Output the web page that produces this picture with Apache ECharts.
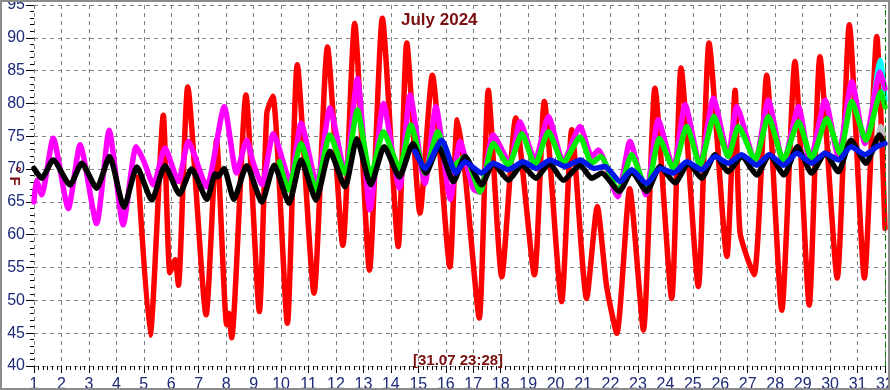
<!DOCTYPE html>
<html>
<head>
<meta charset="utf-8">
<script src="https://cdn.jsdelivr.net/npm/echarts@6/dist/echarts.min.js"></script>
<style>
html,body{margin:0;padding:0;background:#fff;}
#c{width:890px;height:390px;}
</style>
</head>
<body>
<div id="c"></div>
<script>
// ---- data: [day, °F] ----
const title = 'July 2024';
const stamp = '[31.07 23:28]';
const yName = '° F';
const xTicks = [1,32];
const yTicks = [40,95];

const red = [[4.80,68.8],[5.23,44.7],[5.71,78.2],[5.95,54.2],[6.14,56.2],[6.26,52.3],[6.60,82.5],[7.27,47.8],[7.65,74.4],[8.02,46.3],[8.10,48],[8.20,44.3],[8.72,81.3],[9.21,48.3],[9.48,78.5],[9.70,81.1],[10.23,46.5],[10.59,85.9],[11.20,51.1],[11.69,88.6],[12.25,58.4],[12.68,92.2],[13.22,54.6],[13.69,93.0],[14.27,58.2],[14.58,89.2],[15.06,63.3],[15.51,84.3],[16.15,55.1],[16.42,77.5],[16.70,69.4],[17.22,47.3],[17.55,82.0],[18.04,53.6],[18.55,77.8],[19.23,53.9],[19.59,80.3],[20.22,49.8],[20.59,76.0],[21.13,50.3],[21.52,64.3],[21.86,52.1],[22.23,45.0],[22.70,67],[23.20,45.5],[23.62,82.3],[24.23,50.3],[24.57,85.4],[25.20,52.1],[25.59,89.2],[26.24,56.7],[26.54,82.0],[26.72,60.3],[27.23,53.9],[27.69,84.3],[28.24,48.5],[28.72,86.4],[29.24,49.3],[29.63,87.1],[30.26,53.4],[30.70,92.0],[31.25,53.4],[31.70,90.2],[32.0,61.0]];

const magenta = [[1.0,65.0],[1.09,68.3],[1.28,66.1],[1.70,74.7],[2.25,64.0],[2.68,73.7],[3.28,61.7],[3.74,75.9],[4.25,61.5],[4.72,73.4],[4.98,71.4],[5.35,67.6],[5.77,73.2],[6.26,68.1],[6.62,74.2],[7.29,67.3],[7.93,79.5],[8.38,69.4],[8.75,74.4],[8.99,70.9],[9.30,67.6],[9.72,75.4],[10.33,68.1],[10.73,77.0],[11.30,67.6],[11.78,79.3],[12.33,69.4],[12.78,83.8],[13.24,63.8],[13.73,80.0],[14.31,67.1],[14.70,81.3],[15.24,67.8],[15.64,79.5],[16.17,65.4],[16.52,74.2],[17.0,67],[17.25,66.5],[17.73,75.2],[18.34,70.9],[18.70,77.2],[19.25,71.4],[19.74,78.0],[20.28,71.1],[20.89,76.5],[21.32,71.9],[21.56,72.9],[22.26,65.8],[22.71,74.2],[23.29,66.1],[23.74,77.5],[24.29,70.1],[24.72,79.8],[25.26,70.6],[25.75,80.8],[26.29,71.9],[26.60,79.5],[27.27,71.1],[27.75,80.5],[28.30,70.9],[28.85,79.5],[29.27,71.1],[29.82,80.5],[30.30,71.9],[30.79,83.3],[31.27,73.9],[31.82,84.8],[32.0,82.3]];

const green = [[9.94,71.1],[10.27,66.8],[10.73,73.9],[11.27,66.8],[11.78,75.2],[12.33,69.4],[12.78,79.0],[13.27,68.8],[13.73,75.7],[14.31,70.1],[14.73,76.7],[15.24,69.4],[15.71,75.7],[16.2,70.2],[16.7,71.9],[17.25,66.5],[17.73,73.9],[18.28,70.6],[18.77,75.4],[19.25,70.6],[19.74,75.7],[20.28,70.9],[20.89,74.9],[21.32,70.9],[21.64,71.9],[22.29,66.6],[22.77,72.2],[23.32,66.8],[23.78,74.7],[24.29,70.1],[24.78,76.5],[25.26,70.6],[25.77,78.0],[26.29,71.9],[26.66,76.5],[27.27,71.4],[27.75,78.0],[28.30,71.4],[28.85,77.2],[29.33,71.6],[29.88,77.7],[30.36,72.4],[30.79,80.3],[31.31,74.4],[31.85,81.8],[32.0,79.5]];

const black = [[1.0,70.1],[1.28,68.6],[1.70,71.4],[2.31,67.6],[2.74,70.9],[3.28,67.1],[3.75,71.9],[4.28,64.2],[4.75,70.3],[5.29,65.3],[5.77,70.5],[6.30,66.2],[6.74,70.0],[7.30,65.4],[7.60,69.3],[7.70,68.8],[7.92,70.1],[8.28,65.4],[8.75,70.5],[9.30,65.0],[9.75,70.6],[10.29,64.8],[10.73,71.4],[11.27,65.3],[11.78,72.7],[12.33,67.3],[12.76,74.6],[13.27,67.6],[13.76,73.4],[14.31,68.8],[14.80,73.9],[15.28,69.4],[15.73,73.4],[16.28,68.1],[16.70,71.9],[17.31,67.6],[17.73,70.9],[18.28,68.3],[18.77,70.6],[19.29,68.6],[19.77,70.9],[20.28,68.3],[20.89,70.6],[21.32,68.6],[21.68,69.4],[22.32,66.6],[22.77,69.6],[23.32,66.6],[23.81,70.4],[24.35,67.9],[24.84,70.9],[25.32,68.6],[25.81,72.2],[26.29,69.6],[26.78,71.9],[27.33,69.1],[27.79,72.2],[28.32,69.1],[28.81,73.4],[29.33,69.4],[29.82,72.4],[30.30,69.6],[30.76,74.4],[31.31,70.9],[31.80,75.2],[31.95,74]];

const blue = [[14.88,72.7],[15.24,70.1],[15.85,74.4],[16.37,69.4],[16.70,71.1],[17.31,69.4],[17.73,70.9],[18.28,69.9],[18.82,71.1],[19.30,70.1],[19.80,71.4],[20.35,70.4],[20.90,71.4],[21.40,70.1],[21.80,70.4],[22.35,68.1],[22.77,69.9],[23.32,67.8],[23.81,70.1],[24.30,69.4],[24.78,71.1],[25.32,69.9],[25.81,71.9],[26.29,70.9],[26.78,72.2],[27.33,70.6],[27.79,72.2],[28.30,70.6],[28.79,72.4],[29.33,70.9],[29.82,72.4],[30.30,71.4],[30.76,73.4],[31.27,72.2],[31.70,73.4],[32.0,73.9]];

const cyan = [[31.55,79],[31.72,84.5],[31.82,86.6],[31.92,84],[32.0,80.5]];
const gray = [[31.55,72.5],[31.75,75],[31.85,76.5],[31.95,75.5]];

const chart = echarts.init(document.getElementById('c'));
const lbl = {color:'#1c2a78', fontSize:16, fontFamily:'Liberation Sans, Arial, sans-serif'};
function line(name, data, color, z){
  return {name, type:'line', data, showSymbol:false, smooth:0.2, z,
    lineStyle:{color, width:5.5, cap:'round', join:'round'}, itemStyle:{color}, animation:false};
}
const series = [
  line('red', red, '#ff0000', 2),
  line('magenta', magenta, '#ff00ff', 3),
  line('gray', gray, '#c0c0c0', 3),
  line('green', green, '#00ee00', 4),
  line('cyan', cyan, '#00ffff', 2),
  line('black', black, '#000000', 5),
  line('blue', blue, '#0018e8', 6)
];
series[0].markLine = {silent:true, symbol:'none', label:{show:false},
  lineStyle:{color:'#008000', type:[5,4], width:1}, data:[{xAxis:32}]};

chart.setOption({
  animation:false,
  backgroundColor:'#ffffff',
  grid:{left:34, right:5, top:5, bottom:24, containLabel:false, outerBoundsMode:'none'},
  xAxis:{type:'value', min:xTicks[0], max:xTicks[1], interval:1,
    axisLine:{show:false}, axisTick:{show:true, length:7, lineStyle:{color:'#000'}},
    minorTick:{show:true, splitNumber:6, length:4, lineStyle:{color:'#000'}},
    axisLabel:{...lbl, margin:11, hideOverlap:false},
    splitLine:{show:true, lineStyle:{color:'#808080', type:[4,4], width:1}}},
  yAxis:{type:'value', min:yTicks[0], max:yTicks[1], interval:5,
    axisLine:{show:false}, axisTick:{show:true, length:8, lineStyle:{color:'#000'}},
    minorTick:{show:true, splitNumber:5, length:4, lineStyle:{color:'#000'}},
    axisLabel:{...lbl, margin:9},
    splitLine:{show:true, lineStyle:{color:'#808080', type:[4,4], width:1}}},
  graphic:[
    {type:'rect', shape:{x:1,y:1,width:888,height:388}, style:{fill:null, stroke:'#8c8c8c', lineWidth:2}, z:100, silent:true},
    {type:'text', left:401, top:12, style:{text:title, fill:'#7a1010', font:'bold 17px Liberation Sans, Arial, sans-serif'}, z:100},
    {type:'text', left:413, top:353, style:{text:stamp, fill:'#7a1010', font:'bold 15px Liberation Sans, Arial, sans-serif'}, z:100},
    {type:'text', x:14, y:176, rotation:-Math.PI/2, style:{text:yName, fill:'#7a1010', font:'bold 15px Liberation Sans, Arial, sans-serif', align:'center', verticalAlign:'middle'}, z:100}
  ],
  series
});
</script>
</body>
</html>
